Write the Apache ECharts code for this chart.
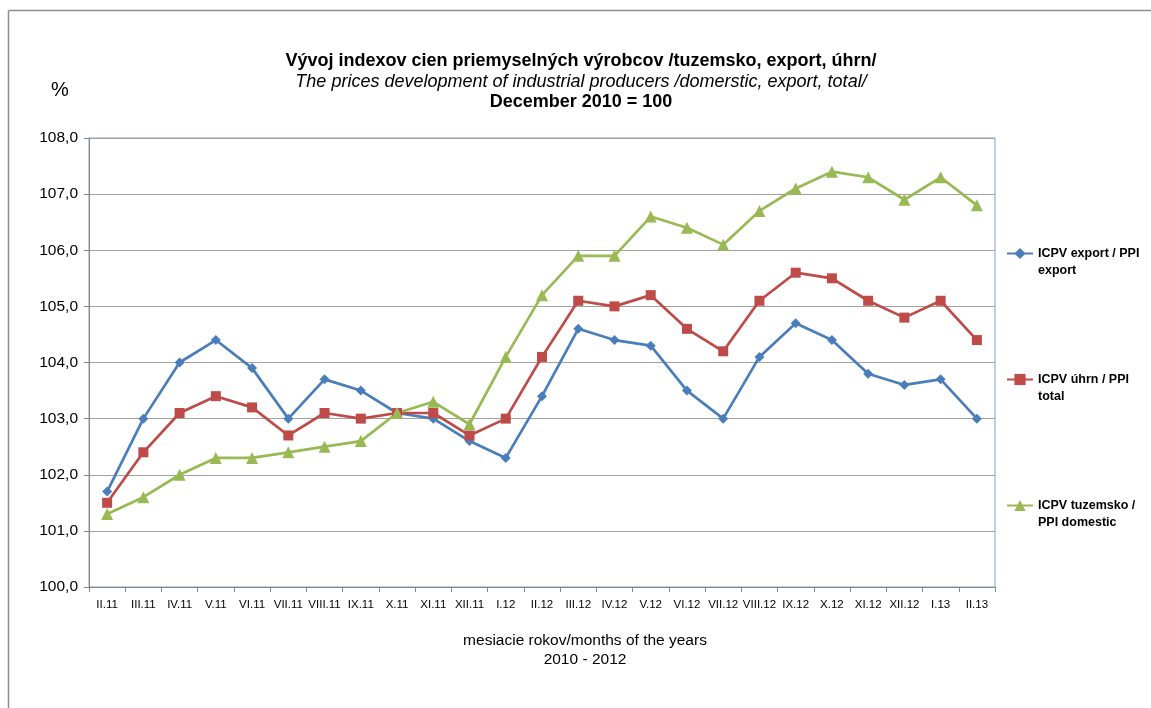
<!DOCTYPE html>
<html><head><meta charset="utf-8">
<script src="https://cdn.jsdelivr.net/npm/echarts@6/dist/echarts.min.js"></script>
<style>html,body{margin:0;padding:0;background:#fff}#c{width:1151px;height:708px}</style>
</head><body><div id="c"></div>
<script>
const categories = ["II.11","III.11","IV.11","V.11","VI.11","VII.11","VIII.11","IX.11","X.11","XI.11","XII.11","I.12","II.12","III.12","IV.12","V.12","VI.12","VII.12","VIII.12","IX.12","X.12","XI.12","XII.12","I.13","II.13"];
const exportVals = [101.7,103.0,104.0,104.4,103.9,103.0,103.7,103.5,103.1,103.0,102.6,102.3,103.4,104.6,104.4,104.3,103.5,103.0,104.1,104.7,104.4,103.8,103.6,103.7,103.0];
const totalVals = [101.5,102.4,103.1,103.4,103.2,102.7,103.1,103.0,103.1,103.1,102.7,103.0,104.1,105.1,105.0,105.2,104.6,104.2,105.1,105.6,105.5,105.1,104.8,105.1,104.4];
const domesticVals = [101.3,101.6,102.0,102.3,102.3,102.4,102.5,102.6,103.1,103.3,102.9,104.1,105.2,105.9,105.9,106.6,106.4,106.1,106.7,107.1,107.4,107.3,106.9,107.3,106.8];
const seriesNames = ["ICPV export / PPI\nexport","ICPV úhrn / PPI\ntotal","ICPV tuzemsko /\nPPI domestic"];
const colors = ["#4A7EBB","#BE4B48","#98B954"];

const FONT = 'Liberation Sans, Arial';
const chart = echarts.init(document.getElementById('c'), null, {renderer:'canvas'});
const legendBase = (name, top) => ({
  data:[name], left:1001, top:top, orient:'vertical', itemWidth:26, itemHeight:14, itemGap:5,
  formatter: n => ' \n' + n,
  textStyle:{fontFamily:FONT, fontSize:12.5, fontWeight:'bold', color:'#000', lineHeight:17}
});
chart.setOption({
  animation:false,
  color:colors,
  title:[
    {text:'Vývoj indexov cien priemyselných výrobcov /tuzemsko, export, úhrn/', left:576, top:47, textAlign:'center',
     textStyle:{fontFamily:FONT, fontSize:18, fontWeight:'bold', color:'#000'}},
    {text:'The prices development of industrial producers /domerstic, export, total/', left:576, top:68, textAlign:'center',
     textStyle:{fontFamily:FONT, fontSize:18, fontStyle:'italic', fontWeight:'normal', color:'#000'}},
    {text:'December 2010 = 100', left:576, top:88, textAlign:'center',
     textStyle:{fontFamily:FONT, fontSize:18, fontWeight:'bold', color:'#000'}},
    {text:'%', left:46, top:75, textStyle:{fontFamily:FONT, fontSize:20, fontWeight:'normal', color:'#000'}},
    {text:'mesiacie rokov/months of the years', left:580, top:628, textAlign:'center',
     textStyle:{fontFamily:FONT, fontSize:15.5, fontWeight:'normal', color:'#000'}},
    {text:'2010 - 2012', left:580, top:647, textAlign:'center',
     textStyle:{fontFamily:FONT, fontSize:15.5, fontWeight:'normal', color:'#000'}}
  ],
  legend:[legendBase(seriesNames[0],223), legendBase(seriesNames[1],349), legendBase(seriesNames[2],475)],
  grid:{left:89, right:156, top:138, bottom:121, show:true, borderColor:'#7F9FCF', borderWidth:1, backgroundColor:'transparent'},
  xAxis:{type:'category', data:categories, boundaryGap:true,
    axisLine:{lineStyle:{color:'#888', width:1}},
    axisTick:{show:true, length:5, lineStyle:{color:'#888'}},
    axisLabel:{fontFamily:FONT, fontSize:11.5, color:'#000', margin:12, interval:0}
  },
  yAxis:{type:'value', min:100, max:108, interval:1,
    axisLine:{show:true, lineStyle:{color:'#888'}},
    axisTick:{show:true, length:5, lineStyle:{color:'#888'}},
    splitLine:{lineStyle:{color:'#A0A0A0', width:1}},
    axisLabel:{fontFamily:FONT, fontSize:15.5, color:'#000', margin:11,
      formatter:v=>v.toFixed(1).replace('.',',')}
  },
  series:[
    {name:seriesNames[0], type:'line', data:exportVals, symbol:'diamond', symbolSize:10, lineStyle:{width:2.7}, itemStyle:{color:colors[0]}},
    {name:seriesNames[1], type:'line', data:totalVals, symbol:'rect', symbolSize:10, lineStyle:{width:2.7}, itemStyle:{color:colors[1]}},
    {name:seriesNames[2], type:'line', data:domesticVals, symbol:'triangle', symbolSize:12, lineStyle:{width:2.7}, itemStyle:{color:colors[2]}}
  ],
  graphic:[
    {type:'line', shape:{x1:8.5,y1:10.5,x2:1151,y2:10.5}, style:{stroke:'#8C8C8C', lineWidth:1.5}, silent:true},
    {type:'line', shape:{x1:8.5,y1:10.5,x2:8.5,y2:708}, style:{stroke:'#8C8C8C', lineWidth:1.5}, silent:true}
  ]
});
</script></body></html>
